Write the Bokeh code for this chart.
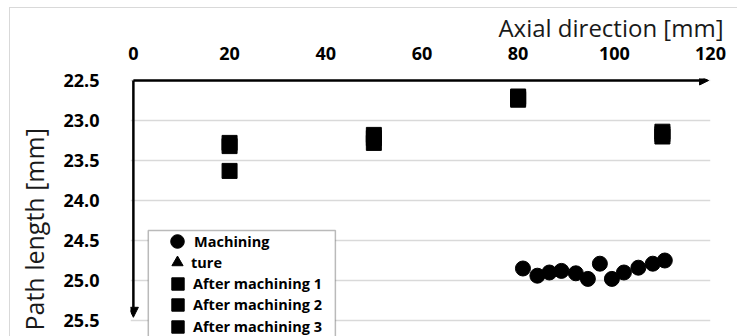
from bokeh.plotting import figure
from bokeh.models import (Range1d, FixedTicker, NumeralTickFormatter, Arrow, NormalHead,
                          Legend, LegendItem, BoxAnnotation, Title)
from bokeh.embed import file_html
from bokeh.resources import INLINE

# Axis ticks
x_ticks = [0, 20, 40, 60, 80, 100, 120]
y_ticks = [22.5, 23.0, 23.5, 24.0, 24.5, 25.0, 25.5]

# Path length measured while machining
machining_x = [81, 84, 86.5, 89, 92, 94.5, 97, 99.5, 102, 105, 108, 110.5]
machining_y = [24.85, 24.94, 24.90, 24.88, 24.91, 24.98, 24.79, 24.98, 24.90, 24.84, 24.79, 24.75]

# True values: no plotted points
ture_x = [None]
ture_y = [None]

# Measurements after machining
after1_x = [20, 50, 80, 110]
after1_y = [23.28, 23.18, 22.70, 23.14]
after2_x = [20, 50, 80, 110]
after2_y = [23.32, 23.28, 22.74, 23.20]
after3_x = [20, 50, 80, 110]
after3_y = [23.63, 23.22, 22.72, 23.17]

FONT = "Open Sans"
GREY = "#d9d9d9"

p = figure(width=737, height=336,
           x_range=Range1d(-0.6, 120), y_range=Range1d(25.7, 22.475),
           x_axis_location="above",
           output_backend="svg", toolbar_location=None,
           min_border_left=130, min_border_right=27,
           min_border_top=78, min_border_bottom=0,
           outline_line_color=None, border_fill_color=None)
# Thin chart-area border along the top and left, painted behind the canvas
p.styles = {"background": (
    f"linear-gradient({GREY}, {GREY}) 9px 7px / 1px calc(100% - 7px) no-repeat, "
    f"linear-gradient({GREY}, {GREY}) 9px 7px / calc(100% - 9px) 1px no-repeat, "
    "#ffffff")}

for ax, ticks, standoff in ((p.xaxis, x_ticks, 13), (p.yaxis, y_ticks, 25)):
    ax.ticker = FixedTicker(ticks=ticks)
    ax.axis_line_color = None
    ax.major_tick_line_color = None
    ax.minor_tick_line_color = None
    ax.major_label_text_font = FONT
    ax.major_label_text_font_style = "bold"
    ax.major_label_text_font_size = "18px"
    ax.major_label_text_color = "black"
    ax.major_label_standoff = standoff
p.yaxis.formatter = NumeralTickFormatter(format="0.0")

p.xgrid.visible = False
p.ygrid.ticker = FixedTicker(ticks=y_ticks)
p.ygrid.grid_line_color = GREY
p.ygrid.grid_line_width = 1.5

# Axis titles
p.title.text = "Axial direction [mm]"
p.title.align = "right"
p.title.offset = -13
p.title.standoff = 0
p.title.text_font = FONT
p.title.text_font_size = "24px"
p.title.text_font_style = "normal"
p.title.text_color = "#1a1a1a"

p.add_layout(Title(text="Path length [mm]", align="left", offset=6, standoff=20,
                   text_font=FONT, text_font_size="25px", text_font_style="normal",
                   text_color="#1a1a1a"), "left")

# Axis arrows along the top and left edges
p.add_layout(Arrow(x_start=0, y_start=22.5, x_end=119.6, y_end=22.5,
                   line_width=2.5, line_color="black",
                   end=NormalHead(size=9, fill_color="black", line_color="black")))
p.add_layout(Arrow(x_start=0, y_start=22.5, x_end=0, y_end=25.46,
                   line_width=2.5, line_color="black",
                   end=NormalHead(size=10, fill_color="black", line_color="black")))

r_mach = p.scatter(machining_x, machining_y, marker="circle", size=15,
                   fill_color="black", line_color="black")
r_ture = p.scatter(ture_x, ture_y, marker="triangle", size=11,
                   fill_color="black", line_color="black")
r_a1 = p.scatter(after1_x, after1_y, marker="square", size=15,
                 fill_color="black", line_color="black")
r_a2 = p.scatter(after2_x, after2_y, marker="square", size=15,
                 fill_color="black", line_color="black")
r_a3 = p.scatter(after3_x, after3_y, marker="square", size=15,
                 fill_color="black", line_color="black")

# Legend frame
p.add_layout(BoxAnnotation(left=3.1, right=42.0, top=24.375, bottom=25.9,
                           fill_color="white", fill_alpha=1.0,
                           line_color="#1a1a1a", line_width=1.5))

# One single-entry legend per row, stacked inside the frame
entries = [("Machining", r_mach, 34), ("ture", r_ture, 28),
           ("After machining 1", r_a1, 31), ("After machining 2", r_a2, 31),
           ("After machining 3", r_a3, 31)]
frame_left, frame_bottom = 130, 336
marker_cx, first_cy, row_step = 177, 241, 21.25
for i, (label, rend, w) in enumerate(entries):
    cy = first_cy + i * row_step
    loc = (round(marker_cx - w / 2 - frame_left), round(frame_bottom - (cy + w / 2)))
    p.add_layout(Legend(items=[LegendItem(label=label, renderers=[rend])],
                        location=loc, padding=0, margin=0,
                        glyph_width=w, glyph_height=w, label_height=21,
                        label_standoff=0, border_line_color=None,
                        background_fill_alpha=0,
                        label_text_font=FONT, label_text_font_style="bold",
                        label_text_font_size="14.5px", label_text_color="black"))

open("out.html", "w").write(file_html(p, INLINE))
